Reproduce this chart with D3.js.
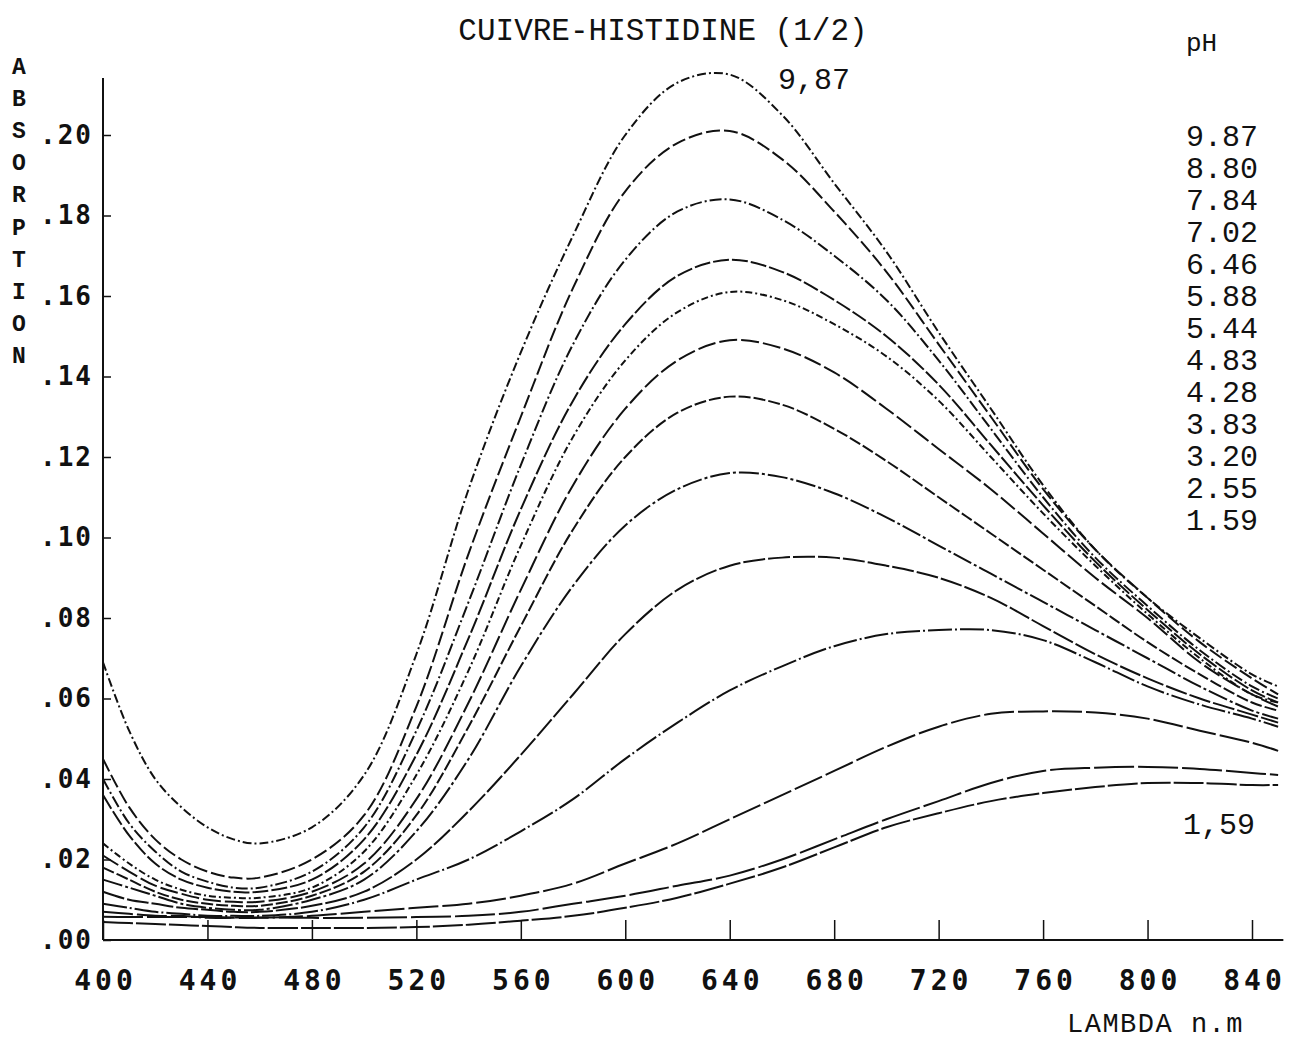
<!DOCTYPE html>
<html>
<head>
<meta charset="utf-8">
<script src="https://cdn.jsdelivr.net/npm/d3@7"></script>
<style>
  html, body { margin: 0; padding: 0; background: #fff; }
  svg { display: block; }
  text { fill: #111; }
</style>
</head>
<body>
<svg id="chart" width="1309" height="1042"></svg>
<script>
// Wavelengths (nm) at which each spectrum is sampled
const wavelengths = [400,410,420,430,440,450,460,480,500,520,540,560,580,600,620,640,660,680,700,720,740,760,780,800,820,840,850];

// Absorbance spectra, one per pH
const abs987 = [.069,.052,.040,.033,.028,.025,.024,.028,.041,.071,.112,.146,.175,.200,.213,.215,.205,.188,.171,.151,.132,.113,.097,.085,.075,.066,.063];
const abs880 = [.045,.033,.025,.020,.017,.0155,.0155,.020,.031,.058,.096,.130,.162,.186,.198,.201,.194,.181,.166,.148,.130,.112,.097,.085,.074,.065,.061];
const abs784 = [.040,.029,.022,.017,.0145,.013,.013,.017,.028,.052,.084,.118,.148,.169,.181,.184,.179,.170,.159,.144,.127,.110,.095,.083,.072,.063,.060];
const abs702 = [.036,.026,.019,.015,.013,.012,.012,.015,.025,.046,.075,.107,.134,.153,.165,.169,.166,.159,.150,.138,.123,.108,.094,.082,.071,.062,.059];
const abs646 = [.024,.019,.015,.0125,.011,.0105,.0105,.013,.022,.041,.067,.098,.125,.144,.156,.161,.159,.153,.145,.134,.120,.106,.093,.081,.070,.061,.059];
const abs588 = [.021,.017,.0135,.0115,.010,.0095,.0095,.012,.019,.035,.059,.087,.113,.132,.144,.149,.147,.141,.132,.122,.112,.101,.090,.080,.069,.061,.058];
const abs544 = [.018,.015,.012,.010,.009,.0085,.0085,.011,.017,.031,.053,.078,.102,.120,.131,.135,.133,.127,.119,.110,.101,.092,.083,.074,.066,.059,.057];
const abs483 = [.015,.013,.011,.009,.008,.0075,.0075,.010,.015,.027,.045,.068,.088,.103,.112,.116,.115,.111,.105,.098,.091,.084,.077,.070,.063,.057,.055];
const abs428 = [.012,.010,.009,.008,.0075,.007,.007,.0085,.012,.020,.032,.046,.061,.076,.087,.093,.095,.095,.093,.090,.085,.078,.071,.065,.060,.056,.054];
const abs383 = [.009,.008,.007,.0065,.006,.006,.006,.007,.010,.015,.020,.027,.035,.045,.054,.062,.068,.073,.0760,.0770,.0770,.0745,.069,.063,.0585,.055,.053];
const abs320 = [.007,.0065,.006,.006,.0055,.0055,.0055,.006,.007,.008,.009,.011,.014,.019,.024,.030,.036,.042,.048,.053,.0562,.0568,.0565,.055,.052,.049,.047];
const abs255 = [.0058,.0057,.0057,.0057,.0057,.0056,.0056,.0055,.0055,.0057,.006,.007,.009,.011,.0135,.016,.020,.025,.030,.0345,.039,.042,.0428,.043,.0425,.0415,.041];
const abs159 = [.0045,.0042,.004,.0037,.0035,.0032,.003,.003,.003,.0032,.0038,.0048,.006,.008,.0105,.014,.018,.023,.028,.0315,.0345,.0365,.038,.039,.039,.0385,.0385];

// pH of each spectrum, in the same order, as listed beside the plot
const phLabels = ["9.87","8.80","7.84","7.02","6.46","5.88","5.44","4.83","4.28","3.83","3.20","2.55","1.59"];
const spectra = [abs987, abs880, abs784, abs702, abs646, abs588, abs544, abs483, abs428, abs383, abs320, abs255, abs159];

// Axis ticks
const xTicks = [400,440,480,520,560,600,640,680,720,760,800,840];
const yTicks = [0,.02,.04,.06,.08,.10,.12,.14,.16,.18,.20];

// Plotter-style dash patterns, one per trace
const dashes = ["9,3,2,3","14,4","12,3,2,3","16,3","7,3,2,3","18,4","12,3","20,3,3,3","22,3","24,3,2,3","30,4","40,4","30,3"];

const svg = d3.select("#chart");
const x = d3.scaleLinear().domain([400, 840]).range([103, 1252]);
const y = d3.scaleLinear().domain([0, 0.20]).range([940, 135]);

const monoBold = "'DejaVu Sans Mono', monospace";
const courier = "'Liberation Mono', 'Courier New', monospace";

// Title
svg.append("text")
  .attr("x", 663).attr("y", 40)
  .attr("text-anchor", "middle")
  .style("font-family", courier).style("font-size", "31px")
  .text("CUIVRE-HISTIDINE (1/2)");

// Vertical axis title, one letter per row
const yTitle = "ABSORPTION".split("");
svg.append("g").selectAll("text").data(yTitle).join("text")
  .attr("x", 19).attr("y", (d, i) => 74 + i * 32.1)
  .attr("text-anchor", "middle")
  .style("font-family", courier).style("font-size", "23px").style("font-weight", "bold")
  .text(d => d);

// Axes
const xAxis = d3.axisBottom(x)
  .tickValues(xTicks)
  .tickSizeInner(-20).tickSizeOuter(0)
  .tickPadding(30)
  .tickFormat(d3.format("d"));
const gx = svg.append("g").attr("transform", "translate(0,940)").call(xAxis);
gx.select(".domain").remove();
gx.selectAll(".tick line").attr("stroke", "#111").attr("stroke-width", 1.5);
gx.selectAll(".tick text")
  .style("font-family", monoBold).style("font-size", "28px").style("font-weight", "bold")
  .style("letter-spacing", "4px").attr("dx", "2px");

svg.append("line")
  .attr("x1", x(400)).attr("x2", x(852))
  .attr("y1", y(0)).attr("y2", y(0))
  .attr("stroke", "#111").attr("stroke-width", 2);

const yAxis = d3.axisLeft(y)
  .tickValues(yTicks)
  .tickSizeInner(-8).tickSizeOuter(0)
  .tickPadding(10)
  .tickFormat(d => d3.format(".2f")(d).replace(/^0/, ""));
const gy = svg.append("g").attr("transform", `translate(${x(400)},0)`).call(yAxis);
gy.select(".domain").remove();
gy.selectAll(".tick line").attr("stroke", "#111").attr("stroke-width", 1.5);
gy.selectAll(".tick text")
  .style("font-family", monoBold).style("font-size", "26px").style("font-weight", "bold")
  .style("letter-spacing", "2px");

svg.append("line")
  .attr("x1", x(400)).attr("x2", x(400))
  .attr("y1", y(0)).attr("y2", 78)
  .attr("stroke", "#111").attr("stroke-width", 2);

// Spectra
const line = d3.line()
  .x((d, i) => x(wavelengths[i]))
  .y(d => y(d))
  .curve(d3.curveCatmullRom.alpha(0.5));

svg.append("g").selectAll("path").data(spectra).join("path")
  .attr("d", d => line(d))
  .attr("fill", "none")
  .attr("stroke", "#111")
  .attr("stroke-width", 2)
  .attr("stroke-dasharray", (d, i) => dashes[i]);

// pH list
svg.append("text")
  .attr("x", 1186).attr("y", 51)
  .style("font-family", courier).style("font-size", "26px")
  .text("pH");
svg.append("g").selectAll("text").data(phLabels).join("text")
  .attr("x", 1186).attr("y", (d, i) => 146 + i * 32)
  .style("font-family", courier).style("font-size", "30px")
  .text(d => d);

// Labels on the extreme traces
svg.append("text")
  .attr("x", 778).attr("y", 89)
  .style("font-family", courier).style("font-size", "30px")
  .text("9,87");
svg.append("text")
  .attr("x", 1183).attr("y", 834)
  .style("font-family", courier).style("font-size", "30px")
  .text("1,59");

// Horizontal axis title
svg.append("text")
  .attr("x", 1067).attr("y", 1032)
  .style("font-family", courier).style("font-size", "27px")
  .style("letter-spacing", "1.5px")
  .text("LAMBDA n.m");
</script>
</body>
</html>
